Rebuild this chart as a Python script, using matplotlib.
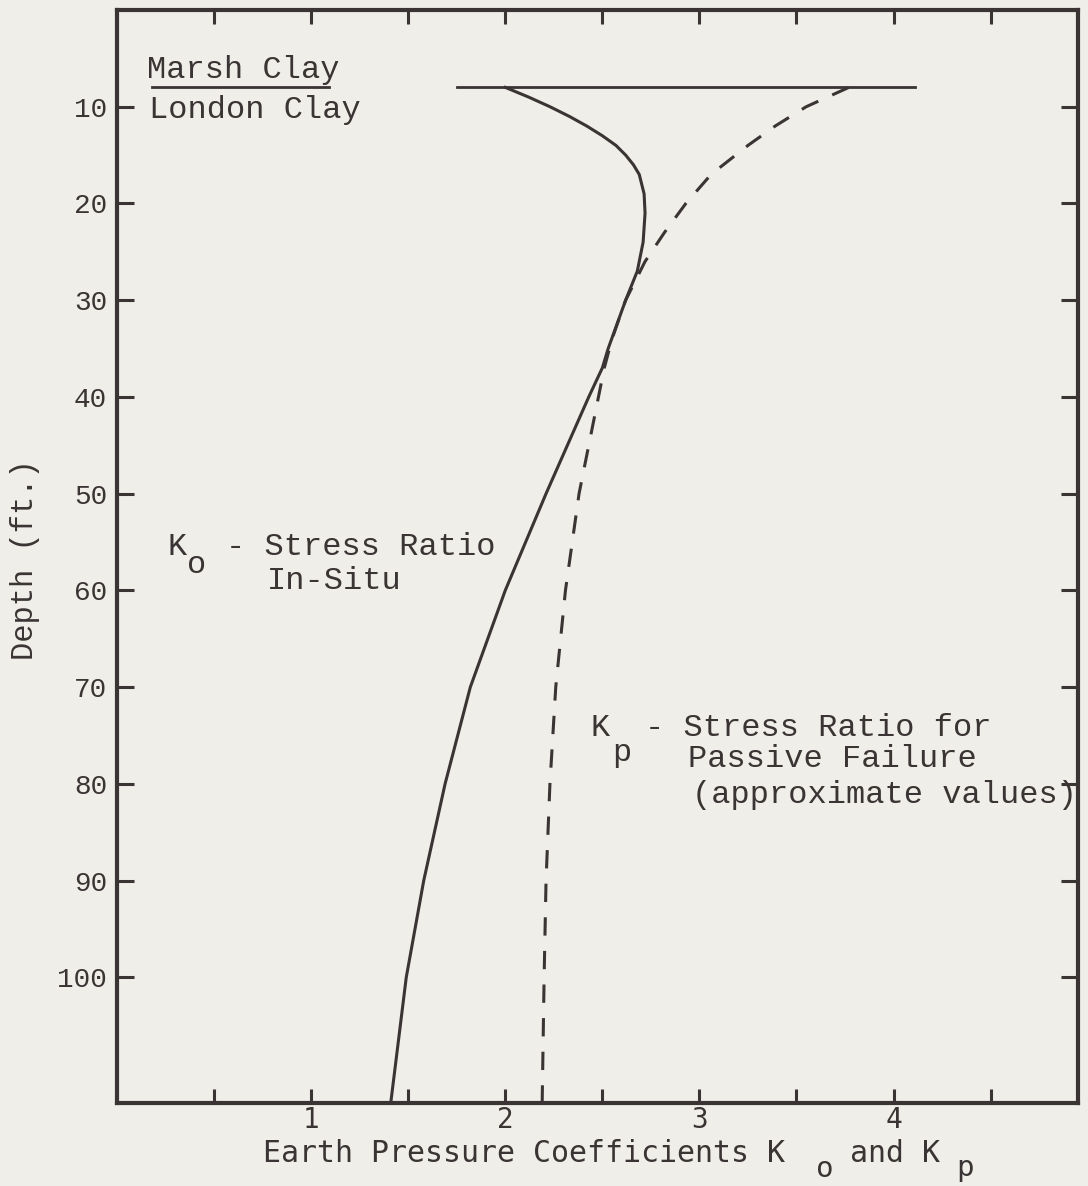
import numpy as np
import matplotlib
matplotlib.use("Agg")
from matplotlib import pyplot as plt

# depth (ft) and coefficients
ko_depth = [8, 9, 10, 11, 12, 13, 14, 15, 16, 17, 19, 21, 24, 27, 30, 35, 37, 40, 50, 60, 70, 80, 90, 100, 113]
ko_value = [2.00, 2.12, 2.23, 2.33, 2.42, 2.50, 2.57, 2.62, 2.66, 2.69, 2.715, 2.72, 2.71, 2.68, 2.62, 2.53, 2.50, 2.43,
            2.21, 2.00, 1.82, 1.69, 1.58, 1.49, 1.41]

kp_depth = [8, 10, 12, 14, 17, 20, 23, 26, 30, 34, 37, 41, 50, 60, 70, 80, 90, 100, 113]
kp_value = [3.77, 3.55, 3.39, 3.25, 3.06, 2.93, 2.82, 2.72, 2.62, 2.55, 2.51, 2.47, 2.38, 2.31, 2.26, 2.23, 2.21, 2.20, 2.19]

layer_depth = 8
layer_x = [1.75, 4.11]

y_ticks = [10, 20, 30, 40, 50, 60, 70, 80, 90, 100]
x_ticks = [1, 2, 3, 4]
x_minor = [0.5, 1.5, 2.5, 3.5, 4.5]

ink = "#3a3434"
paper = "#efeee8"
mono = ["Liberation Mono", "DejaVu Sans Mono"]
narrow = ["DejaVu Sans Mono"]

fig = plt.figure(figsize=(10.88, 11.86), dpi=100, facecolor=paper)
ax = fig.add_axes([117 / 1088, 1 - 1103 / 1186, (1078 - 117) / 1088, (1103 - 10) / 1186])
ax.set_facecolor(paper)

ax.plot(ko_value, ko_depth, color=ink, lw=2.2)
ax.plot(kp_value, kp_depth, color=ink, lw=2.2, dashes=(6, 5))
ax.plot(layer_x, [layer_depth, layer_depth], color=ink, lw=2.0)

ax.set_xlim(0, 4.95)
ax.set_ylim(113, 0)

for s in ax.spines.values():
    s.set_linewidth(3)
    s.set_color(ink)

ax.set_yticks(y_ticks)
ax.set_yticklabels([str(v) for v in y_ticks], fontfamily=mono, fontsize=20, color=ink)
ax.set_xticks(x_ticks)
ax.set_xticklabels([str(v) for v in x_ticks], fontfamily=narrow, fontsize=20, color=ink)
ax.set_xticks(x_minor, minor=True)
ax.tick_params(axis="y", which="major", direction="in", length=12, width=2.2, color=ink,
               left=True, right=True, pad=7)
ax.tick_params(axis="x", which="both", direction="in", length=10, width=2.2, color=ink,
               top=True, bottom=True, pad=2)

# layer labels
ax.text(0.155, 6.2, "Marsh Clay", fontfamily=mono, fontsize=23, color=ink, va="center", ha="left")
ax.plot([0.18, 1.09], [layer_depth, layer_depth], color=ink, lw=2.0)
ax.text(0.165, 10.3, "London Clay", fontfamily=mono, fontsize=23, color=ink, va="center", ha="left")

# Ko label
ax.text(0.258, 55.5, "K", fontfamily=mono, fontsize=23, color=ink, va="center", ha="left")
ax.text(0.36, 57.4, "o", fontfamily=mono, fontsize=23, color=ink, va="center", ha="left")
ax.text(0.56, 55.5, "- Stress Ratio", fontfamily=mono, fontsize=23, color=ink, va="center", ha="left")
ax.text(0.77, 59.0, "In-Situ", fontfamily=mono, fontsize=23, color=ink, va="center", ha="left")

# Kp label
ax.text(2.44, 74.2, "K", fontfamily=mono, fontsize=23, color=ink, va="center", ha="left")
ax.text(2.55, 76.8, "p", fontfamily=mono, fontsize=23, color=ink, va="center", ha="left")
ax.text(2.72, 74.2, "- Stress Ratio for", fontfamily=mono, fontsize=23, color=ink, va="center", ha="left")
ax.text(2.94, 77.4, "Passive Failure", fontfamily=mono, fontsize=23, color=ink, va="center", ha="left")
ax.text(2.96, 81.2, "(approximate values)", fontfamily=mono, fontsize=23, color=ink, va="center", ha="left")

# axis titles
fig.text(25 / 1088, 1 - 560 / 1186, "Depth (ft.)", rotation=90, fontfamily=mono, fontsize=22,
         color=ink, va="center", ha="center")
fig.text(263 / 1088, 1 - 1153 / 1186, "Earth Pressure Coefficients K", fontfamily=narrow,
         fontsize=21.5, color=ink, va="center", ha="left")
fig.text(816 / 1088, 1 - 1169 / 1186, "o", fontfamily=narrow, fontsize=21, color=ink, va="center", ha="left")
fig.text(850 / 1088, 1 - 1153 / 1186, "and K", fontfamily=narrow,
         fontsize=21.5, color=ink, va="center", ha="left")
fig.text(956 / 1088, 1 - 1168 / 1186, "p", fontfamily=narrow, fontsize=21, color=ink, va="center", ha="left")

fig.savefig("out.png", dpi=100, facecolor=paper)
